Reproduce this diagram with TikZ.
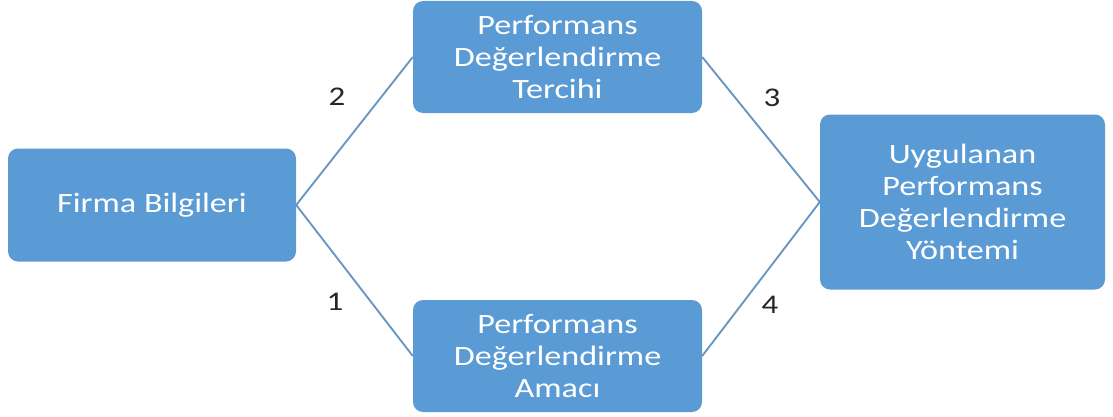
\documentclass[tikz,border=0pt]{standalone}
\usepackage{fontspec}
\setmainfont{Carlito}[FakeStretch=1.22]
\usetikzlibrary{positioning}

\definecolor{kutumavi}{HTML}{5B9BD5}
\definecolor{cizgimavi}{HTML}{6A97C2}

\tikzset{
    kutu/.style={draw=none, fill=kutumavi, rounded corners=10pt, text=white,
        align=center, inner sep=2pt,
        font=\fontsize{28}{32}\selectfont},
    baglanti/.style={draw=cizgimavi, line width=1.9pt},
    numara/.style={text=black!85, font=\fontsize{27}{30}\selectfont}
}

\begin{document}
\begin{tikzpicture}[x=1pt, y=1pt]
    \useasboundingbox (0,0) rectangle (1113,416);

    % kutular
    \node[kutu, minimum width=288pt, minimum height=113pt] (firma) at (152,211) {Firma Bilgileri};
    \node[kutu, minimum width=289pt, minimum height=112pt] (tercih) at (557.5,359) {Performans\\Değerlendirme\\Tercihi};
    \node[kutu, minimum width=289pt, minimum height=112pt] (amac) at (557.5,60) {Performans\\Değerlendirme\\Amacı};
    \node[kutu, minimum width=285pt, minimum height=175pt] (yontem) at (962.5,214) {Uygulanan\\Performans\\Değerlendirme\\Yöntemi};

    % bağlantılar
    \draw[baglanti] (firma.east) -- (tercih.west);
    \draw[baglanti] (firma.east) -- (amac.west);
    \draw[baglanti] (tercih.east) -- (yontem.west);
    \draw[baglanti] (amac.east) -- (yontem.west);

    % numaralar
    \node[numara] (n2) at (337,319) {2};
    \node[numara] (n1) at (335,114) {1};
    \node[numara] (n3) at (772,318) {3};
    \node[numara] (n4) at (770,111) {4};
\end{tikzpicture}
\end{document}
